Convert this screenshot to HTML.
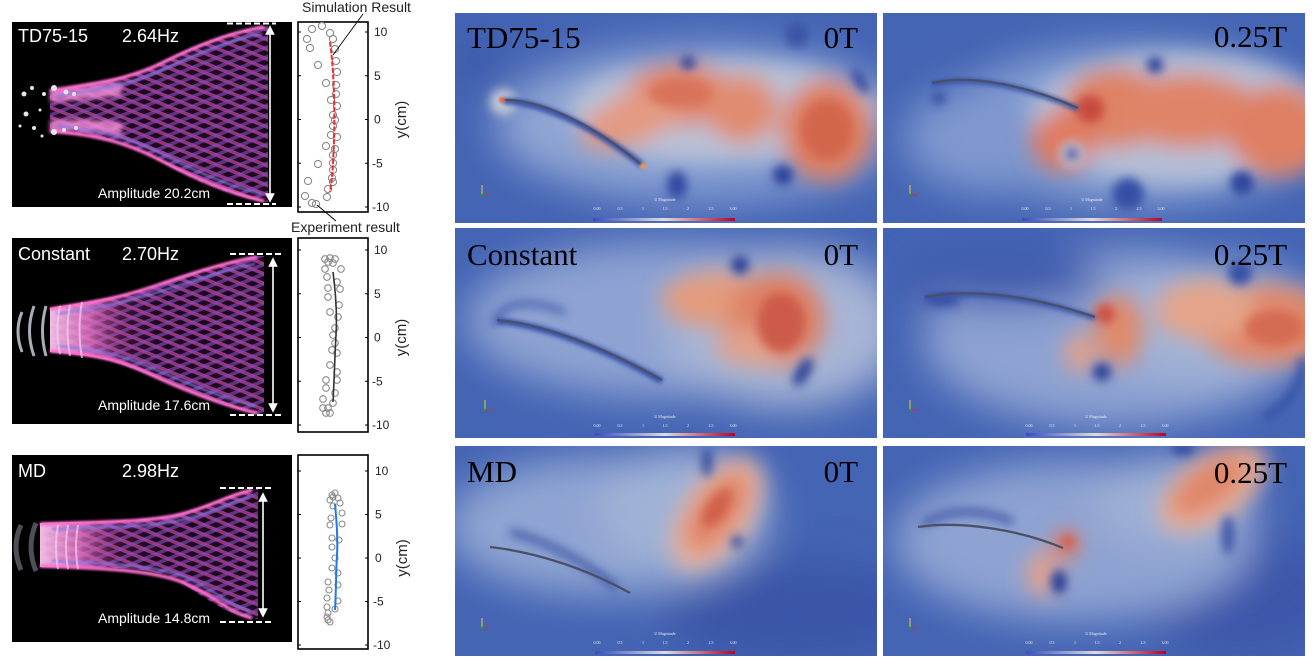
<!DOCTYPE html>
<html><head><meta charset="utf-8">
<style>
html,body{margin:0;padding:0;background:#fff;width:1314px;height:667px;overflow:hidden}
svg{display:block}
</style></head>
<body>
<svg width="1314" height="667" viewBox="0 0 1314 667" xmlns="http://www.w3.org/2000/svg">
<defs>
  <filter id="f22" x="-60%" y="-60%" width="220%" height="220%"><feGaussianBlur stdDeviation="20"/></filter>
  <filter id="f12" x="-60%" y="-60%" width="220%" height="220%"><feGaussianBlur stdDeviation="11"/></filter>
  <filter id="f6" x="-60%" y="-60%" width="220%" height="220%"><feGaussianBlur stdDeviation="5"/></filter>
  <filter id="f3" x="-60%" y="-60%" width="220%" height="220%"><feGaussianBlur stdDeviation="2.5"/></filter>
  <filter id="f1" x="-60%" y="-60%" width="220%" height="220%"><feGaussianBlur stdDeviation="1"/></filter>
  <clipPath id="cfd"><rect x="0" y="0" width="422" height="210"/></clipPath>
  <linearGradient id="cbar" x1="0" y1="0" x2="1" y2="0">
    <stop offset="0" stop-color="#3b4cc0"/><stop offset="0.5" stop-color="#dddddd"/><stop offset="1" stop-color="#b40426"/>
  </linearGradient>
  <linearGradient id="fanL" x1="0" y1="0" x2="1" y2="0">
    <stop offset="0" stop-color="#f2a6de" stop-opacity="0.9"/>
    <stop offset="0.12" stop-color="#e066c0" stop-opacity="0.55"/>
    <stop offset="0.3" stop-color="#c0509e" stop-opacity="0.1"/>
    <stop offset="0.45" stop-color="#c0509e" stop-opacity="0"/>
  </linearGradient>
  <linearGradient id="fanR" x1="0" y1="0" x2="1" y2="0">
    <stop offset="0" stop-color="#f6c4ea" stop-opacity="0.95"/>
    <stop offset="0.18" stop-color="#e878c8" stop-opacity="0.8"/>
    <stop offset="0.35" stop-color="#c0509e" stop-opacity="0.15"/>
    <stop offset="0.5" stop-color="#c0509e" stop-opacity="0"/>
  </linearGradient>
  <pattern id="xa" width="9" height="9" patternUnits="userSpaceOnUse" patternTransform="rotate(22)">
    <rect width="9" height="3.6" fill="#c04aa4" opacity="0.7"/>
  </pattern>
  <pattern id="xb" width="9" height="9" patternUnits="userSpaceOnUse" patternTransform="rotate(-22)">
    <rect width="9" height="3.6" fill="#8848b4" opacity="0.65"/>
  </pattern>
  <marker id="ah" viewBox="0 0 10 10" refX="5" refY="5" markerWidth="6" markerHeight="6" orient="auto-start-reverse">
    <path d="M0 0 L10 5 L0 10 Z" fill="#fff"/>
  </marker>
</defs>

<!-- ================= PHOTO PANEL 1 ================= -->
<g transform="translate(12,22)" font-family="Liberation Sans, sans-serif">
  <rect width="280" height="185" fill="#000"/>
  <path d="M38 68 C90 60 120 55 150 40 S215 10 252 4 L256 4 L256 180 L252 180 C215 172 185 160 150 140 S90 114 38 110 Z" fill="#1e0820"/>
  <path d="M38 68 C90 60 120 55 150 40 S215 10 252 4 L256 4 L256 180 L252 180 C215 172 185 160 150 140 S90 114 38 110 Z" fill="url(#xa)"/>
  <path d="M38 68 C90 60 120 55 150 40 S215 10 252 4 L256 4 L256 180 L252 180 C215 172 185 160 150 140 S90 114 38 110 Z" fill="url(#xb)"/>
  <g filter="url(#f3)">
    <path d="M38 68 C70 64 90 62 110 60 L110 74 C90 76 70 78 38 80 Z" fill="#f08ad4" opacity="0.85"/>
    <path d="M38 110 C70 108 90 110 110 114 L110 100 C90 98 70 97 38 98 Z" fill="#f08ad4" opacity="0.85"/>
  </g>
  <g filter="url(#f1)" fill="none">
    <path d="M38 69 C90 61 120 56 150 41 S215 11 252 5" stroke="#ff70cf" stroke-width="3.5"/>
    <path d="M45 74 C90 67 120 62 150 48 S215 18 250 12" stroke="#8a7ae6" stroke-width="2.5" opacity="0.8"/>
    <path d="M38 109 C90 113 120 123 150 139 S215 171 252 179" stroke="#ff70cf" stroke-width="3.5"/>
    <path d="M45 104 C90 108 120 117 150 132 S215 164 250 172" stroke="#8a7ae6" stroke-width="2.5" opacity="0.8"/>
  </g>
  <g fill="#e2e8f2">
    <circle cx="12" cy="72" r="2.5"/><circle cx="20" cy="66" r="2"/><circle cx="28" cy="88" r="1.5"/><circle cx="14" cy="92" r="2.5"/>
    <circle cx="32" cy="72" r="2"/><circle cx="42" cy="66" r="3"/><circle cx="42" cy="110" r="3"/><circle cx="22" cy="106" r="2"/>
    <circle cx="52" cy="108" r="2"/><circle cx="54" cy="70" r="2.5"/><circle cx="8" cy="104" r="1.5"/><circle cx="30" cy="114" r="1.5"/>
    <circle cx="62" cy="72" r="2"/><circle cx="64" cy="106" r="2"/>
  </g>
  <text x="6" y="20" font-size="18" fill="#fff">TD75-15</text>
  <text x="110" y="20" font-size="18" fill="#fff">2.64Hz</text>
  <text x="86" y="176" font-size="14" fill="#fff">Amplitude 20.2cm</text>
  <line x1="215" y1="1.5" x2="264" y2="1.5" stroke="#fff" stroke-width="2" stroke-dasharray="6,3"/>
  <line x1="215" y1="182" x2="264" y2="182" stroke="#fff" stroke-width="2" stroke-dasharray="6,3"/>
  <line x1="258" y1="8" x2="258" y2="176" stroke="#fff" stroke-width="1.6" marker-start="url(#ah)" marker-end="url(#ah)"/>
</g>

<!-- ================= PHOTO PANEL 2 ================= -->
<g transform="translate(12,238)" font-family="Liberation Sans, sans-serif">
  <rect width="280" height="186" fill="#000"/>
  <path d="M38 70 C90 62 110 58 140 48 S210 24 245 18 L252 18 L252 176 L245 176 C210 168 175 152 140 138 S90 118 38 114 Z" fill="#1e0820"/>
  <path d="M38 70 C90 62 110 58 140 48 S210 24 245 18 L252 18 L252 176 L245 176 C210 168 175 152 140 138 S90 118 38 114 Z" fill="url(#xa)"/>
  <path d="M38 70 C90 62 110 58 140 48 S210 24 245 18 L252 18 L252 176 L245 176 C210 168 175 152 140 138 S90 118 38 114 Z" fill="url(#xb)"/>
  <path d="M38 70 C90 62 110 58 140 48 S210 24 245 18 L252 18 L252 176 L245 176 C210 168 175 152 140 138 S90 118 38 114 Z" fill="url(#fanR)"/>
  <g filter="url(#f1)" fill="none">
    <path d="M38 71 C90 63 110 59 140 49 S210 25 245 19" stroke="#ff70cf" stroke-width="3.5"/>
    <path d="M45 76 C90 69 110 65 140 56 S210 32 243 26" stroke="#8a7ae6" stroke-width="2.5" opacity="0.8"/>
    <path d="M38 113 C90 117 110 123 140 137 S210 167 245 175" stroke="#ff70cf" stroke-width="3.5"/>
    <path d="M45 108 C90 112 110 117 140 130 S210 160 243 168" stroke="#8a7ae6" stroke-width="2.5" opacity="0.8"/>
  </g>
  <g fill="none" stroke="#a8aeb8" stroke-width="3">
    <path d="M10 74 Q2 93 10 114"/><path d="M22 68 Q13 93 22 118"/><path d="M34 68 Q27 93 34 118"/>
  </g>
  <g fill="none" stroke="#f6d0ee" stroke-width="2" opacity="0.7">
    <path d="M48 68 Q43 92 48 116"/><path d="M58 67 Q53 92 58 118"/><path d="M70 64 Q65 92 70 120"/>
  </g>
  <text x="6" y="22" font-size="18" fill="#fff">Constant</text>
  <text x="110" y="22" font-size="18" fill="#fff">2.70Hz</text>
  <text x="86" y="172" font-size="14" fill="#fff">Amplitude 17.6cm</text>
  <line x1="218" y1="16" x2="270" y2="16" stroke="#fff" stroke-width="2" stroke-dasharray="6,3"/>
  <line x1="218" y1="177" x2="270" y2="177" stroke="#fff" stroke-width="2" stroke-dasharray="6,3"/>
  <line x1="261" y1="24" x2="261" y2="170" stroke="#fff" stroke-width="1.6" marker-start="url(#ah)" marker-end="url(#ah)"/>
</g>

<!-- ================= PHOTO PANEL 3 ================= -->
<g transform="translate(12,455)" font-family="Liberation Sans, sans-serif">
  <rect width="280" height="187" fill="#000"/>
  <path d="M28 68 C90 66 140 66 170 58 S215 40 240 34 L246 34 L246 164 L240 164 C215 158 200 148 170 128 S90 114 28 112 Z" fill="#1e0820"/>
  <path d="M28 68 C90 66 140 66 170 58 S215 40 240 34 L246 34 L246 164 L240 164 C215 158 200 148 170 128 S90 114 28 112 Z" fill="url(#xa)"/>
  <path d="M28 68 C90 66 140 66 170 58 S215 40 240 34 L246 34 L246 164 L240 164 C215 158 200 148 170 128 S90 114 28 112 Z" fill="url(#xb)"/>
  <path d="M28 68 C90 66 140 66 170 58 S215 40 240 34 L246 34 L246 164 L240 164 C215 158 200 148 170 128 S90 114 28 112 Z" fill="url(#fanR)"/>
  <g filter="url(#f1)" fill="none">
    <path d="M28 69 C90 67 140 67 170 59 S215 41 240 35" stroke="#ff70cf" stroke-width="3.5"/>
    <path d="M40 74 C90 72 140 72 170 65 S215 48 238 42" stroke="#8a7ae6" stroke-width="2.5" opacity="0.8"/>
    <path d="M28 111 C90 113 140 115 170 127 S215 157 240 163" stroke="#ff70cf" stroke-width="3.5"/>
    <path d="M40 106 C90 108 140 110 170 121 S215 150 238 156" stroke="#8a7ae6" stroke-width="2.5" opacity="0.8"/>
  </g>
  <g fill="none" stroke="#4e5058" stroke-width="5">
    <path d="M9 70 Q-1 92 9 115"/><path d="M24 68 Q14 92 24 116"/>
  </g>
  <g fill="none" stroke="#f6d0ee" stroke-width="2" opacity="0.7">
    <path d="M46 70 Q42 92 46 114"/><path d="M56 70 Q52 92 56 114"/><path d="M66 70 Q62 92 66 114"/>
  </g>
  <text x="6" y="22" font-size="18" fill="#fff">MD</text>
  <text x="110" y="22" font-size="18" fill="#fff">2.98Hz</text>
  <text x="86" y="168" font-size="14" fill="#fff">Amplitude 14.8cm</text>
  <line x1="208" y1="33" x2="260" y2="33" stroke="#fff" stroke-width="2" stroke-dasharray="6,3"/>
  <line x1="208" y1="167" x2="260" y2="167" stroke="#fff" stroke-width="2" stroke-dasharray="6,3"/>
  <line x1="251" y1="42" x2="251" y2="158" stroke="#fff" stroke-width="1.6" marker-start="url(#ah)" marker-end="url(#ah)"/>
</g>

<!-- ================= SMALL PLOTS ================= -->
<g font-family="Liberation Sans, sans-serif" font-size="12" fill="#222">
  <!-- plot 1 -->
  <rect x="298" y="22" width="70" height="190" fill="#fff" stroke="#000" stroke-width="1.6"/>
  <g stroke="#000" stroke-width="1">
    <line x1="365" y1="32" x2="368" y2="32"/><line x1="365" y1="75.75" x2="368" y2="75.75"/><line x1="365" y1="119.5" x2="368" y2="119.5"/><line x1="365" y1="163.25" x2="368" y2="163.25"/><line x1="365" y1="207" x2="368" y2="207"/>
    <line x1="298" y1="32" x2="301" y2="32"/><line x1="298" y1="75.75" x2="301" y2="75.75"/><line x1="298" y1="119.5" x2="301" y2="119.5"/><line x1="298" y1="163.25" x2="301" y2="163.25"/><line x1="298" y1="207" x2="301" y2="207"/>
  </g>
  <text x="374" y="36">10</text><text x="374" y="79.75">5</text><text x="374" y="123.5">0</text><text x="372" y="167.25">-5</text><text x="372" y="211">-10</text>
  <text transform="translate(406,119.5) rotate(-90)" text-anchor="middle" font-size="15">y(cm)</text>
  <g fill="none" stroke="#8a8a8a" stroke-width="1.1">
    <circle cx="312" cy="29" r="3.6"/><circle cx="322" cy="26" r="3.6"/><circle cx="307" cy="39" r="3.6"/><circle cx="330" cy="33" r="3.6"/>
    <circle cx="333" cy="39" r="3.6"/><circle cx="310" cy="48" r="3.6"/><circle cx="335" cy="49" r="3.6"/><circle cx="336" cy="61" r="3.6"/>
    <circle cx="318" cy="65" r="3.6"/><circle cx="337" cy="72" r="3.6"/><circle cx="326" cy="83" r="3.6"/><circle cx="336" cy="85" r="3.6"/>
    <circle cx="336" cy="94" r="3.6"/><circle cx="331" cy="100" r="3.6"/><circle cx="337" cy="106" r="3.6"/><circle cx="333" cy="115" r="3.6"/>
    <circle cx="335" cy="120" r="3.6"/><circle cx="333" cy="126" r="3.6"/><circle cx="331" cy="135" r="3.6"/><circle cx="337" cy="137" r="3.6"/>
    <circle cx="326" cy="146" r="3.6"/><circle cx="335" cy="149" r="3.6"/><circle cx="333" cy="155" r="3.6"/><circle cx="318" cy="164" r="3.6"/>
    <circle cx="333" cy="163" r="3.6"/><circle cx="333" cy="170" r="3.6"/><circle cx="332" cy="178" r="3.6"/><circle cx="308" cy="181" r="3.6"/>
    <circle cx="328" cy="189" r="3.6"/><circle cx="327" cy="197" r="3.6"/><circle cx="305" cy="196" r="3.6"/><circle cx="312" cy="203" r="3.6"/>
    <circle cx="316" cy="204" r="3.6"/><circle cx="333" cy="182" r="3.6"/>
  </g>
  <path d="M330 42 C334 70 335 110 334 140 S332 180 330 192" fill="none" stroke="#ee2a2a" stroke-width="2" stroke-dasharray="5,1.5"/>
  <text x="302" y="12" font-size="14">Simulation Result</text>
  <line x1="363" y1="14" x2="333" y2="55" stroke="#000" stroke-width="0.9"/>
  <text x="291" y="232" font-size="14">Experiment result</text>
  <line x1="317" y1="205" x2="336" y2="221" stroke="#000" stroke-width="0.9"/>

  <!-- plot 2 -->
  <rect x="298" y="238" width="70" height="194" fill="#fff" stroke="#000" stroke-width="1.6"/>
  <g stroke="#000" stroke-width="1">
    <line x1="365" y1="250" x2="368" y2="250"/><line x1="365" y1="293.75" x2="368" y2="293.75"/><line x1="365" y1="337.5" x2="368" y2="337.5"/><line x1="365" y1="381.25" x2="368" y2="381.25"/><line x1="365" y1="425" x2="368" y2="425"/>
    <line x1="298" y1="250" x2="301" y2="250"/><line x1="298" y1="293.75" x2="301" y2="293.75"/><line x1="298" y1="337.5" x2="301" y2="337.5"/><line x1="298" y1="381.25" x2="301" y2="381.25"/><line x1="298" y1="425" x2="301" y2="425"/>
  </g>
  <text x="374" y="254">10</text><text x="374" y="297.75">5</text><text x="374" y="341.5">0</text><text x="372" y="385.25">-5</text><text x="372" y="429">-10</text>
  <text transform="translate(406,337.5) rotate(-90)" text-anchor="middle" font-size="15">y(cm)</text>
  <g fill="none" stroke="#8a8a8a" stroke-width="1.1">
    <circle cx="325" cy="259" r="3.3"/><circle cx="330" cy="258" r="3.3"/><circle cx="335" cy="259" r="3.3"/><circle cx="333" cy="263" r="3.3"/>
    <circle cx="328" cy="262" r="3.3"/><circle cx="341" cy="269" r="3.3"/><circle cx="325" cy="269" r="3.3"/><circle cx="327" cy="277" r="3.3"/>
    <circle cx="337" cy="282" r="3.3"/><circle cx="328" cy="288" r="3.3"/><circle cx="340" cy="289" r="3.3"/><circle cx="328" cy="297" r="3.3"/>
    <circle cx="339" cy="305" r="3.3"/><circle cx="330" cy="312" r="3.3"/><circle cx="338" cy="317" r="3.3"/><circle cx="335" cy="328" r="3.3"/>
    <circle cx="333" cy="335" r="3.3"/><circle cx="335" cy="343" r="3.3"/><circle cx="332" cy="350" r="3.3"/><circle cx="337" cy="353" r="3.3"/>
    <circle cx="330" cy="365" r="3.3"/><circle cx="337" cy="372" r="3.3"/><circle cx="326" cy="380" r="3.3"/><circle cx="337" cy="380" r="3.3"/>
    <circle cx="326" cy="388" r="3.3"/><circle cx="335" cy="393" r="3.3"/><circle cx="323" cy="399" r="3.3"/><circle cx="333" cy="403" r="3.3"/>
    <circle cx="323" cy="408" r="3.3"/><circle cx="326" cy="413" r="3.3"/><circle cx="330" cy="413" r="3.3"/><circle cx="328" cy="408" r="3.3"/>
  </g>
  <path d="M333 272 C336 295 337 318 336 335 S334 385 333 402" fill="none" stroke="#333" stroke-width="1.6"/>

  <!-- plot 3 -->
  <rect x="298" y="455" width="70" height="194" fill="#fff" stroke="#000" stroke-width="1.6"/>
  <g stroke="#000" stroke-width="1">
    <line x1="365" y1="471" x2="368" y2="471"/><line x1="365" y1="514.5" x2="368" y2="514.5"/><line x1="365" y1="558" x2="368" y2="558"/><line x1="365" y1="601.5" x2="368" y2="601.5"/><line x1="365" y1="645" x2="368" y2="645"/>
    <line x1="298" y1="471" x2="301" y2="471"/><line x1="298" y1="514.5" x2="301" y2="514.5"/><line x1="298" y1="558" x2="301" y2="558"/><line x1="298" y1="601.5" x2="301" y2="601.5"/><line x1="298" y1="645" x2="301" y2="645"/>
  </g>
  <text x="375" y="475">10</text><text x="375" y="518.5">5</text><text x="375" y="562">0</text><text x="373" y="605.5">-5</text><text x="373" y="649">-10</text>
  <text transform="translate(407,558) rotate(-90)" text-anchor="middle" font-size="15">y(cm)</text>
  <g fill="none" stroke="#8a8a8a" stroke-width="1.1">
    <circle cx="335" cy="493" r="3"/><circle cx="332" cy="495" r="3"/><circle cx="333" cy="497" r="3"/><circle cx="338" cy="498" r="3"/>
    <circle cx="330" cy="500" r="3"/><circle cx="340" cy="503" r="3"/><circle cx="333" cy="506" r="3"/><circle cx="342" cy="513" r="3"/>
    <circle cx="331" cy="518" r="3"/><circle cx="342" cy="524" r="3"/><circle cx="330" cy="525" r="3"/><circle cx="332" cy="538" r="3"/>
    <circle cx="339" cy="540" r="3"/><circle cx="332" cy="547" r="3"/><circle cx="335" cy="558" r="3"/><circle cx="332" cy="568" r="3"/>
    <circle cx="338" cy="573" r="3"/><circle cx="328" cy="582" r="3"/><circle cx="338" cy="585" r="3"/><circle cx="329" cy="590" r="3"/>
    <circle cx="327" cy="598" r="3"/><circle cx="338" cy="601" r="3"/><circle cx="327" cy="607" r="3"/><circle cx="335" cy="609" r="3"/>
    <circle cx="328" cy="613" r="3"/><circle cx="327" cy="617" r="3"/><circle cx="328" cy="620" r="3"/><circle cx="330" cy="622" r="3"/>
  </g>
  <path d="M335 504 C337 525 338 540 337 555 S336 595 335 610" fill="none" stroke="#1f78e8" stroke-width="2"/>
</g>

<!-- ================= CFD PANELS ================= -->
<!-- A: TD75-15 0T -->
<g transform="translate(455,13)">
  <g clip-path="url(#cfd)">
    <rect width="422" height="210" fill="#4464b4"/>
    <g filter="url(#f22)">
      <ellipse cx="250" cy="110" rx="200" ry="82" fill="#7f98cf"/>
      <ellipse cx="150" cy="112" rx="110" ry="60" fill="#8fa5d3"/>
      <circle cx="28" cy="50" r="22" fill="#3a56a8"/>
    </g>
    <g filter="url(#f12)">
      <ellipse cx="270" cy="98" rx="155" ry="52" fill="#b9c1d6"/>
      <ellipse cx="225" cy="82" rx="54" ry="31" fill="#e08468"/>
      <ellipse cx="287" cy="96" rx="36" ry="34" fill="#e08c70"/>
      <ellipse cx="372" cy="117" rx="46" ry="51" fill="#de7f62"/>
      <ellipse cx="178" cy="106" rx="55" ry="25" fill="#e49a82" transform="rotate(-22 178 106)"/>
    </g>
    <g filter="url(#f6)">
      <ellipse cx="372" cy="117" rx="26" ry="30" fill="#d2664e"/>
      <ellipse cx="225" cy="80" rx="32" ry="15" fill="#d8735a"/>
      <circle cx="233" cy="50" r="7" fill="#2a3f98"/>
      <circle cx="328" cy="162" r="10" fill="#2c4199"/>
      <ellipse cx="222" cy="172" rx="10" ry="14" fill="#3049a0"/>
      <ellipse cx="405" cy="68" rx="5" ry="14" fill="#2e459c" transform="rotate(-30 405 68)"/>
      <circle cx="342" cy="22" r="12" fill="#3a55a6"/>
      <circle cx="48" cy="89" r="13" fill="#c4c9d8"/>
    </g>
    <path d="M48 88 C80 88 130 107 187 152" fill="none" stroke="#2f4aa8" stroke-width="6" filter="url(#f3)"/>
    <path d="M48 87 C80 86 130 105 187 152" fill="none" stroke="#4b5068" stroke-width="2.3"/>
    <circle cx="47" cy="87" r="3" fill="#e86a44" filter="url(#f1)"/>
    <circle cx="188" cy="153" r="3" fill="#f0954c" filter="url(#f1)"/>
    <g stroke-width="1"><line x1="27" y1="172" x2="27" y2="182" stroke="#e0d040"/><line x1="27" y1="182" x2="35" y2="182" stroke="#d03030"/><circle cx="27" cy="182" r="1.3" fill="#20a020"/></g>
    <rect x="138" y="205" width="142" height="3" fill="url(#cbar)"/>
    <g font-family="Liberation Serif, serif" font-size="4" fill="#e8ecf4" text-anchor="middle">
      <text x="210" y="188">U Magnitude</text>
      <text x="142" y="197">0.00</text><text x="165" y="197">0.5</text><text x="188" y="197">1</text><text x="210" y="197">1.5</text><text x="233" y="197">2</text><text x="256" y="197">2.5</text><text x="278" y="197">3.00</text>
    </g>
    <text x="12" y="35" font-family="Liberation Serif, serif" font-size="31" fill="#000">TD75-15</text>
    <text x="403" y="35" font-family="Liberation Serif, serif" font-size="31" fill="#000" text-anchor="end">0T</text>
  </g>
</g>

<!-- B: TD75-15 0.25T -->
<g transform="translate(883,13)">
  <g clip-path="url(#cfd)">
    <rect width="422" height="210" fill="#4464b4"/>
    <g filter="url(#f22)">
      <ellipse cx="250" cy="112" rx="190" ry="80" fill="#87a0d2"/>
      <ellipse cx="110" cy="125" rx="90" ry="55" fill="#7f98cf"/>
    </g>
    <g filter="url(#f12)">
      <ellipse cx="295" cy="105" rx="150" ry="65" fill="#b5bed6"/>
      <ellipse cx="232" cy="95" rx="52" ry="40" fill="#de8264"/>
      <ellipse cx="305" cy="98" rx="72" ry="37" fill="#e08468"/>
      <ellipse cx="395" cy="118" rx="50" ry="46" fill="#de8064"/>
      <ellipse cx="180" cy="128" rx="32" ry="30" fill="#e07a62"/>
    </g>
    <g filter="url(#f6)">
      <ellipse cx="207" cy="96" rx="14" ry="14" fill="#c84a3e"/>
      <circle cx="189" cy="141" r="13" fill="#c2c8da"/>
      <circle cx="189" cy="141" r="7" fill="#2c4099"/>
      <circle cx="272" cy="52" r="8" fill="#2c4099"/>
      <circle cx="359" cy="170" r="12" fill="#2e449c"/>
      <circle cx="245" cy="181" r="16" fill="#3550a5"/>
      <circle cx="56" cy="85" r="6" fill="#2e449c"/>
    </g>
    <path d="M49 71 C90 61 150 76 195 96" fill="none" stroke="#3552aa" stroke-width="5" filter="url(#f3)"/>
    <path d="M49 70 C90 60 150 75 195 95" fill="none" stroke="#4b5068" stroke-width="2.3"/>
    <g stroke-width="1"><line x1="27" y1="172" x2="27" y2="182" stroke="#e0d040"/><line x1="27" y1="182" x2="35" y2="182" stroke="#d03030"/><circle cx="27" cy="182" r="1.3" fill="#20a020"/></g>
    <rect x="139" y="205" width="140" height="3" fill="url(#cbar)"/>
    <g font-family="Liberation Serif, serif" font-size="4" fill="#e8ecf4" text-anchor="middle">
      <text x="209" y="188">U Magnitude</text>
      <text x="142" y="197">0.00</text><text x="165" y="197">0.5</text><text x="188" y="197">1</text><text x="210" y="197">1.5</text><text x="233" y="197">2</text><text x="256" y="197">2.5</text><text x="278" y="197">3.00</text>
    </g>
    <text x="404" y="34" font-family="Liberation Serif, serif" font-size="31" fill="#000" text-anchor="end">0.25T</text>
  </g>
</g>

<!-- C: Constant 0T -->
<g transform="translate(455,228)">
  <g clip-path="url(#cfd)">
    <rect width="422" height="211" fill="#4464b4"/>
    <g filter="url(#f22)">
      <ellipse cx="210" cy="92" rx="200" ry="78" fill="#8ea3d2"/>
      <ellipse cx="330" cy="100" rx="120" ry="80" fill="#a7b5d6"/>
    </g>
    <g filter="url(#f12)">
      <ellipse cx="262" cy="72" rx="55" ry="28" fill="#e39b7e"/>
      <ellipse cx="322" cy="92" rx="48" ry="48" fill="#de8064"/>
      <ellipse cx="300" cy="118" rx="40" ry="20" fill="#e2a08a"/>
    </g>
    <g filter="url(#f6)">
      <ellipse cx="326" cy="95" rx="24" ry="30" fill="#cc5c48"/>
      <circle cx="285" cy="37" r="9" fill="#2c4099"/>
      <ellipse cx="348" cy="144" rx="7" ry="16" fill="#2f4499" transform="rotate(30 348 144)"/>
      <path d="M38 98 Q50 62 110 84" fill="none" stroke="#3550a8" stroke-width="5"/>
    </g>
    <path d="M42 93 C90 97 150 121 207 153" fill="none" stroke="#2f4aa8" stroke-width="6" filter="url(#f3)"/>
    <path d="M42 92 C90 96 150 120 207 152" fill="none" stroke="#4b5068" stroke-width="2.3"/>
    <g stroke-width="1"><line x1="30" y1="172" x2="30" y2="182" stroke="#e0d040"/><line x1="30" y1="182" x2="38" y2="182" stroke="#d03030"/><circle cx="30" cy="182" r="1.3" fill="#20a020"/></g>
    <rect x="140" y="205" width="140" height="3" fill="url(#cbar)"/>
    <g font-family="Liberation Serif, serif" font-size="4" fill="#e8ecf4" text-anchor="middle">
      <text x="210" y="190">U Magnitude</text>
      <text x="142" y="199">0.00</text><text x="165" y="199">0.5</text><text x="188" y="199">1</text><text x="210" y="199">1.5</text><text x="233" y="199">2</text><text x="256" y="199">2.5</text><text x="278" y="199">3.00</text>
    </g>
    <text x="12" y="37" font-family="Liberation Serif, serif" font-size="31" fill="#000">Constant</text>
    <text x="403" y="37" font-family="Liberation Serif, serif" font-size="31" fill="#000" text-anchor="end">0T</text>
  </g>
</g>

<!-- D: Constant 0.25T -->
<g transform="translate(883,228)">
  <g clip-path="url(#cfd)">
    <rect width="422" height="211" fill="#4464b4"/>
    <g filter="url(#f22)">
      <ellipse cx="230" cy="110" rx="190" ry="88" fill="#8ea3d2"/>
      <ellipse cx="330" cy="95" rx="110" ry="60" fill="#a3b2d6"/>
      <ellipse cx="120" cy="50" rx="100" ry="30" fill="#3f5cae"/>
    </g>
    <g filter="url(#f12)">
      <ellipse cx="236" cy="102" rx="24" ry="36" fill="#e08a6c"/>
      <ellipse cx="197" cy="125" rx="15" ry="20" fill="#e4a088"/>
      <ellipse cx="385" cy="97" rx="70" ry="40" fill="#e0886a"/>
      <ellipse cx="322" cy="82" rx="50" ry="30" fill="#e4a489"/>
    </g>
    <g filter="url(#f6)">
      <circle cx="222" cy="86" r="10" fill="#cc5040"/>
      <ellipse cx="392" cy="100" rx="30" ry="18" fill="#d46c52"/>
      <circle cx="219" cy="144" r="9" fill="#2c4099"/>
      <circle cx="357" cy="45" r="12" fill="#3550a5"/>
      <path d="M380 190 Q420 170 420 130" fill="none" stroke="#3550a5" stroke-width="8"/>
      <ellipse cx="60" cy="72" rx="18" ry="6" fill="#33489f"/>
    </g>
    <path d="M42 70 C90 61 150 69 212 90" fill="none" stroke="#3552aa" stroke-width="5" filter="url(#f3)"/>
    <path d="M42 69 C90 60 150 68 212 89" fill="none" stroke="#4b5068" stroke-width="2.3"/>
    <g stroke-width="1"><line x1="27" y1="172" x2="27" y2="182" stroke="#e0d040"/><line x1="27" y1="182" x2="35" y2="182" stroke="#d03030"/><circle cx="27" cy="182" r="1.3" fill="#20a020"/></g>
    <rect x="143" y="205" width="140" height="3" fill="url(#cbar)"/>
    <g font-family="Liberation Serif, serif" font-size="4" fill="#e8ecf4" text-anchor="middle">
      <text x="213" y="190">U Magnitude</text>
      <text x="146" y="199">0.00</text><text x="169" y="199">0.5</text><text x="192" y="199">1</text><text x="214" y="199">1.5</text><text x="237" y="199">2</text><text x="260" y="199">2.5</text><text x="282" y="199">3.00</text>
    </g>
    <text x="404" y="37" font-family="Liberation Serif, serif" font-size="31" fill="#000" text-anchor="end">0.25T</text>
  </g>
</g>

<!-- E: MD 0T -->
<g transform="translate(455,446)">
  <g clip-path="url(#cfd)">
    <rect width="422" height="210" fill="#4464b4"/>
    <g filter="url(#f22)">
      <ellipse cx="340" cy="165" rx="130" ry="50" fill="#3a55a8"/>
      <ellipse cx="150" cy="80" rx="160" ry="70" fill="#8fa4d2"/>
      <ellipse cx="230" cy="62" rx="85" ry="60" fill="#a0b2d6"/>
    </g>
    <g filter="url(#f12)">
      <ellipse cx="262" cy="68" rx="64" ry="34" fill="#e8b4a0" transform="rotate(-55 262 68)"/>
      <ellipse cx="262" cy="66" rx="48" ry="22" fill="#e08466" transform="rotate(-55 262 66)"/>
    </g>
    <g filter="url(#f6)">
      <ellipse cx="262" cy="62" rx="22" ry="10" fill="#d0604c" transform="rotate(-55 262 62)"/>
      <ellipse cx="252" cy="16" rx="5" ry="15" fill="#33489f"/>
      <circle cx="282" cy="96" r="6" fill="#33489f"/>
      <path d="M55 86 Q110 100 162 142" fill="none" stroke="#33489f" stroke-width="6"/>
    </g>
    <path d="M35 101 C80 106 130 122 175 147" fill="none" stroke="#4b5068" stroke-width="2.3"/>
    <g stroke-width="1"><line x1="27" y1="172" x2="27" y2="182" stroke="#e0d040"/><line x1="27" y1="182" x2="35" y2="182" stroke="#d03030"/><circle cx="27" cy="182" r="1.3" fill="#20a020"/></g>
    <rect x="140" y="205" width="140" height="3" fill="url(#cbar)"/>
    <g font-family="Liberation Serif, serif" font-size="4" fill="#e8ecf4" text-anchor="middle">
      <text x="210" y="189">U Magnitude</text>
      <text x="142" y="198">0.00</text><text x="165" y="198">0.5</text><text x="188" y="198">1</text><text x="210" y="198">1.5</text><text x="233" y="198">2</text><text x="256" y="198">2.5</text><text x="278" y="198">3.00</text>
    </g>
    <text x="12" y="36" font-family="Liberation Serif, serif" font-size="31" fill="#000">MD</text>
    <text x="403" y="36" font-family="Liberation Serif, serif" font-size="31" fill="#000" text-anchor="end">0T</text>
  </g>
</g>

<!-- F: MD 0.25T -->
<g transform="translate(883,446)">
  <g clip-path="url(#cfd)">
    <rect width="422" height="210" fill="#4464b4"/>
    <g filter="url(#f22)">
      <ellipse cx="360" cy="150" rx="100" ry="60" fill="#3c57aa"/>
      <ellipse cx="190" cy="95" rx="180" ry="80" fill="#8ea3d2"/>
      <ellipse cx="290" cy="55" rx="80" ry="45" fill="#9fb0d5"/>
    </g>
    <g filter="url(#f12)">
      <ellipse cx="330" cy="42" rx="62" ry="32" fill="#e8b09a" transform="rotate(-35 330 42)"/>
      <ellipse cx="326" cy="40" rx="45" ry="20" fill="#e08466" transform="rotate(-35 326 40)"/>
      <circle cx="183" cy="99" r="14" fill="#e07a62"/>
      <ellipse cx="160" cy="128" rx="16" ry="22" fill="#e6a08a"/>
    </g>
    <g filter="url(#f6)">
      <circle cx="185" cy="96" r="7" fill="#d45a48"/>
      <ellipse cx="176" cy="136" rx="8" ry="12" fill="#2c4099"/>
      <path d="M40 78 Q80 55 130 76" fill="none" stroke="#33489f" stroke-width="6"/>
      <ellipse cx="345" cy="89" rx="6" ry="20" fill="#3a52a6"/>
      <ellipse cx="300" cy="3" rx="12" ry="6" fill="#33489f"/>
    </g>
    <path d="M35 81 C80 74 140 85 180 102" fill="none" stroke="#4b5068" stroke-width="2.3"/>
    <g stroke-width="1"><line x1="27" y1="172" x2="27" y2="182" stroke="#e0d040"/><line x1="27" y1="182" x2="35" y2="182" stroke="#d03030"/><circle cx="27" cy="182" r="1.3" fill="#20a020"/></g>
    <rect x="143" y="205" width="140" height="3" fill="url(#cbar)"/>
    <g font-family="Liberation Serif, serif" font-size="4" fill="#e8ecf4" text-anchor="middle">
      <text x="213" y="189">U Magnitude</text>
      <text x="146" y="198">0.00</text><text x="169" y="198">0.5</text><text x="192" y="198">1</text><text x="214" y="198">1.5</text><text x="237" y="198">2</text><text x="260" y="198">2.5</text><text x="282" y="198">3.00</text>
    </g>
    <text x="404" y="37" font-family="Liberation Serif, serif" font-size="31" fill="#000" text-anchor="end">0.25T</text>
  </g>
</g>
</svg>
</body></html>
